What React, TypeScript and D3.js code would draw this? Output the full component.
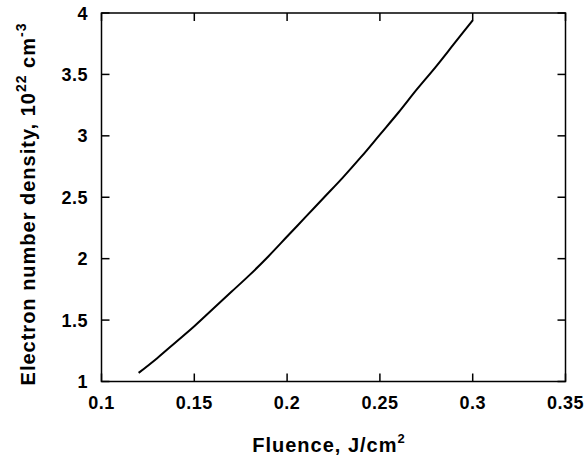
import React from 'react'
import { scaleLinear, line, curveMonotoneX } from 'd3'

// fluence (J/cm^2) vs electron density (10^22 cm^-3)
const fluence = [0.12, 0.13, 0.14, 0.15, 0.16, 0.17, 0.18, 0.19, 0.2, 0.21, 0.22, 0.23, 0.24, 0.25, 0.26, 0.27, 0.28, 0.29, 0.3]
const density = [1.07, 1.19, 1.32, 1.45, 1.59, 1.73, 1.87, 2.02, 2.18, 2.34, 2.5, 2.66, 2.83, 3.01, 3.19, 3.38, 3.56, 3.75, 3.94]
const xTicks = [0.1, 0.15, 0.2, 0.25, 0.3, 0.35]
const yTicks = [1, 1.5, 2, 2.5, 3, 3.5, 4]

const W = 587
const H = 464
const left = 101.5
const right = 565.5
const top = 13
const bottom = 381.5
const tick = 8
const font = '"Liberation Sans", Arial, sans-serif'

const App = () => {
    const x = scaleLinear().domain([0.1, 0.35]).range([left, right])
    const y = scaleLinear().domain([1, 4]).range([bottom, top])
    const pts = fluence.map((f, i) => [f, density[i]] as [number, number])
    const path = line<[number, number]>().x(d => x(d[0])).y(d => y(d[1])).curve(curveMonotoneX)(pts)

    return (
        <svg width={W} height={H} style={{ position: 'absolute', left: 0, top: 0, background: '#fff' }}>
            <rect x={left} y={top} width={right - left} height={bottom - top} fill='none' stroke='#000' strokeWidth={1.5} />
            {
                xTicks.map((t) => {
                    return (
                        <g key={'x' + t}>
                            <line x1={x(t)} x2={x(t)} y1={bottom} y2={bottom - tick} stroke='#000' strokeWidth={1.5} />
                            <line x1={x(t)} x2={x(t)} y1={top} y2={top + tick} stroke='#000' strokeWidth={1.5} />
                            <text x={x(t)} y={409} textAnchor='middle' fontFamily={font} fontWeight='bold' fontSize={18} letterSpacing={0.5}>{String(t)}</text>
                        </g>
                    )
                })
            }
            {
                yTicks.map((t) => {
                    return (
                        <g key={'y' + t}>
                            <line x1={left} x2={left + tick} y1={y(t)} y2={y(t)} stroke='#000' strokeWidth={1.5} />
                            <line x1={right} x2={right - tick} y1={y(t)} y2={y(t)} stroke='#000' strokeWidth={1.5} />
                            <text x={88} y={y(t) + 6.5} textAnchor='end' fontFamily={font} fontWeight='bold' fontSize={18} letterSpacing={0.5}>{String(t)}</text>
                        </g>
                    )
                })
            }
            <path d={path || ''} fill='none' stroke='#000' strokeWidth={2} />
            <text x={329} y={452} textAnchor='middle' fontFamily={font} fontWeight='bold' fontSize={20} letterSpacing={1}>
                Fluence, J/cm<tspan dy={-9} fontSize={13}>2</tspan>
            </text>
            <text transform={`translate(35,204) rotate(-90)`} textAnchor='middle' fontFamily={font} fontWeight='bold' fontSize={20} letterSpacing={1}>
                Electron number density, 10<tspan dy={-9} fontSize={14}>22</tspan><tspan dy={9}> cm</tspan><tspan dy={-9} fontSize={14}>-3</tspan>
            </text>
        </svg>
    );
};

export default App;
